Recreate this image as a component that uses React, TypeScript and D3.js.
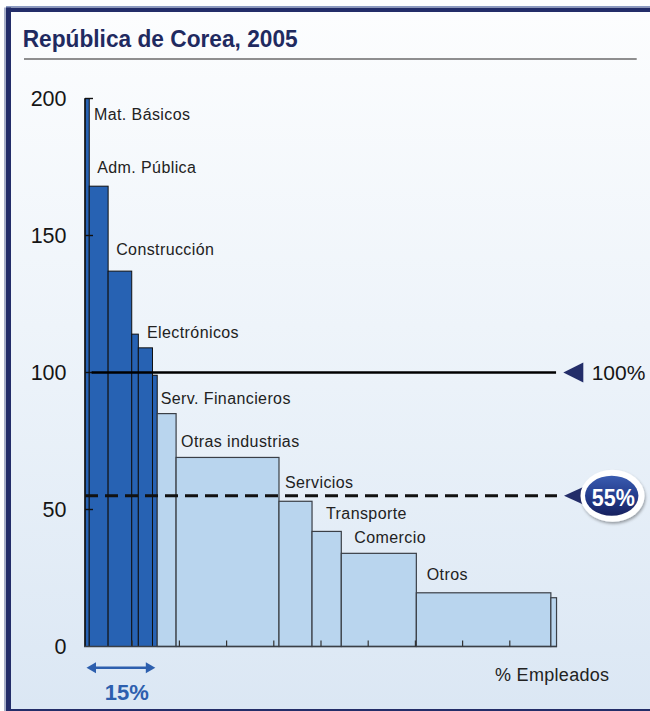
import React from 'react';
import * as d3 from 'd3';

// sectors, ordered by productivity (index), width = % of employment
const sectors = [
  'Mat. Básicos', 'Adm. Pública', 'Construcción', '', 'Electrónicos', '',
  'Serv. Financieros', 'Otras industrias', 'Servicios', 'Transporte', 'Comercio', 'Otros', '',
];
const productivity = [200, 168, 137, 114, 109, 99, 85, 69, 53, 42, 34, 19.6, 17.8];
const employment = [0.9, 4.0, 5.0, 1.4, 3.0, 1.0, 4.0, 21.8, 7.0, 6.2, 15.9, 28.5, 1.2];
const highGroup = [true, true, true, true, true, true, false, false, false, false, false, false, false];
const yTicks = [0, 50, 100, 150, 200];
const xTicks = [10, 20, 30, 40, 50, 60, 70, 80, 90];
const refAverage = 100;
const refTarget = 55;
const highShare = 15;

// label nudges relative to each bar's top-left corner
const labelDx = [9, 8, 8, 0, 8.7, 0, 3.5, 5, 6, 14, 13, 10.4, 0];
const labelDy = [-21.5, 13, 16, 0, 9.5, 0, 9.6, 10.7, 13, 12.4, 10, 12.8, 0];

const FONT = '"Liberation Sans", Arial, Helvetica, sans-serif';
const NAVY = '#232d69';

export default function App() {
  const x = d3.scaleLinear().domain([0, 100]).range([85, 557]);
  const y = d3.scaleLinear().domain([0, 200]).range([646.5, 98.5]);

  const ends = Array.from(d3.cumsum(employment));
  const bars = sectors.map((name, i) => ({
    name,
    value: productivity[i],
    start: ends[i] - employment[i],
    end: ends[i],
    high: highGroup[i],
  }));

  const arrowY = 667.7;

  return (
    <div style={{ position: 'absolute', left: 0, top: 0 }}>
      <svg width={650} height={711} style={{ display: 'block', fontFamily: FONT }}>
        <defs>
          <linearGradient id="bg" x1="0" y1="0" x2="0" y2="1">
            <stop offset="0%" stopColor="#fcfdfe" />
            <stop offset="45%" stopColor="#eef4fa" />
            <stop offset="100%" stopColor="#dbe7f4" />
          </linearGradient>
          <linearGradient id="badge" x1="0" y1="0" x2="0" y2="1">
            <stop offset="0%" stopColor="#3a5cb0" />
            <stop offset="55%" stopColor="#223a8a" />
            <stop offset="100%" stopColor="#17215e" />
          </linearGradient>
          <filter id="shadow" x="-30%" y="-30%" width="160%" height="160%">
            <feDropShadow dx="1" dy="2" stdDeviation="1.5" floodColor="#000" floodOpacity="0.35" />
          </filter>
        </defs>

        {/* frame */}
        <rect x={0} y={0} width={650} height={711} fill="#ffffff" />
        <rect x={11} y={12} width={639} height={697} fill="url(#bg)" />
        <rect x={6} y={7.5} width={644} height={4.5} fill={NAVY} />
        <rect x={6} y={6} width={644} height={1.5} fill="#8d9cc2" />
        <rect x={6} y={7.5} width={5} height={703.5} fill={NAVY} />
        <rect x={4} y={7.5} width={2} height={703.5} fill="#a9b1c9" />
        <rect x={6} y={709} width={644} height={2} fill={NAVY} />

        {/* title */}
        <text x={22.7} y={46.7} fontSize={23} fontWeight="bold" fill="#1f2a60"
          textLength={275} lengthAdjust="spacingAndGlyphs">República de Corea, 2005</text>
        <line x1={24} x2={636.7} y1={59} y2={59} stroke="#6a6a6a" strokeWidth={1.6} />

        {/* bars */}
        {bars.map((b, i) => (
          <rect key={i}
            x={x(b.start)} y={y(b.value)}
            width={x(b.end) - x(b.start)} height={y(0) - y(b.value)}
            fill={b.high ? '#2762b3' : '#b9d5ee'}
            stroke={b.high ? '#111' : '#3a3f46'} strokeWidth={b.high ? 1 : 1.2} />
        ))}

        {/* axes */}
        <line x1={x(0)} x2={x(0)} y1={y(0)} y2={y(200)} stroke="#111" strokeWidth={1.4} />
        <line x1={x(0) - 1} x2={x(100)} y1={y(0)} y2={y(0)} stroke="#3a3f46" strokeWidth={1.5} />
        {yTicks.filter(t => t > 0).map(t => (
          <line key={t} x1={x(0)} x2={x(0) + 8} y1={y(t)} y2={y(t)} stroke="#111" strokeWidth={1.4} />
        ))}
        {xTicks.map(t => (
          <line key={t} x1={x(t)} x2={x(t)} y1={y(0)} y2={y(0) - 6} stroke="#333" strokeWidth={1.2} />
        ))}
        {yTicks.map(t => (
          <text key={t} x={66.5} y={y(t) + 7.7} fontSize={21.5} textAnchor="end" fill="#151515">{t}</text>
        ))}

        {/* reference lines */}
        <line x1={x(1.4)} x2={x(99.8)} y1={y(refAverage)} y2={y(refAverage)} stroke="#000" strokeWidth={2.7} />
        <line x1={x(0)} x2={x(100)} y1={y(refTarget)} y2={y(refTarget)} stroke="#111" strokeWidth={3}
          strokeDasharray="13,7" />

        {/* bar labels */}
        {bars.map((b, i) => b.name && (
          <text key={i} x={x(b.start) + labelDx[i]} y={y(b.value) - labelDy[i]}
            fontSize={16} letterSpacing={0.4} fill="#222">{b.name}</text>
        ))}

        {/* 100% marker */}
        <path d={`M${563.3},${y(refAverage)} L${583.3},${y(refAverage) - 10} L${583.3},${y(refAverage) + 10} Z`}
          fill={NAVY} />
        <text x={591.7} y={y(refAverage) + 7.5} fontSize={21} fill="#151515">{refAverage}%</text>

        {/* 55% badge */}
        <path d={`M${564},${y(refTarget)} L${586},${y(refTarget) - 10} L${586},${y(refTarget) + 10} Z`}
          fill={NAVY} />
        <ellipse cx={612.5} cy={y(refTarget)} rx={32} ry={26} fill="#ffffff" filter="url(#shadow)" />
        <ellipse cx={611.7} cy={y(refTarget)} rx={26.7} ry={20} fill="url(#badge)" />
        <text x={613.3} y={y(refTarget) + 10.5} fontSize={23} fontWeight="bold" fill="#ffffff"
          textAnchor="middle" textLength={43} lengthAdjust="spacingAndGlyphs">{refTarget}%</text>

        {/* 15% span */}
        <line x1={x(0) + 8} x2={x(highShare) - 8} y1={arrowY} y2={arrowY} stroke="#2d5fae" strokeWidth={2.6} />
        <path d={`M${x(0) + 1.5},${arrowY} L${x(0) + 11},${arrowY - 5.5} L${x(0) + 11},${arrowY + 5.5} Z`}
          fill="#2d5fae" />
        <path d={`M${x(highShare) - 0.5},${arrowY} L${x(highShare) - 10},${arrowY - 5.5} L${x(highShare) - 10},${arrowY + 5.5} Z`}
          fill="#2d5fae" />
        <text x={126.7} y={700} fontSize={22} fontWeight="bold" fill="#2d5fae" textAnchor="middle">{highShare}%</text>

        <text x={495} y={681} fontSize={18} letterSpacing={0.3} fill="#222">% Empleados</text>
      </svg>
    </div>
  );
}
